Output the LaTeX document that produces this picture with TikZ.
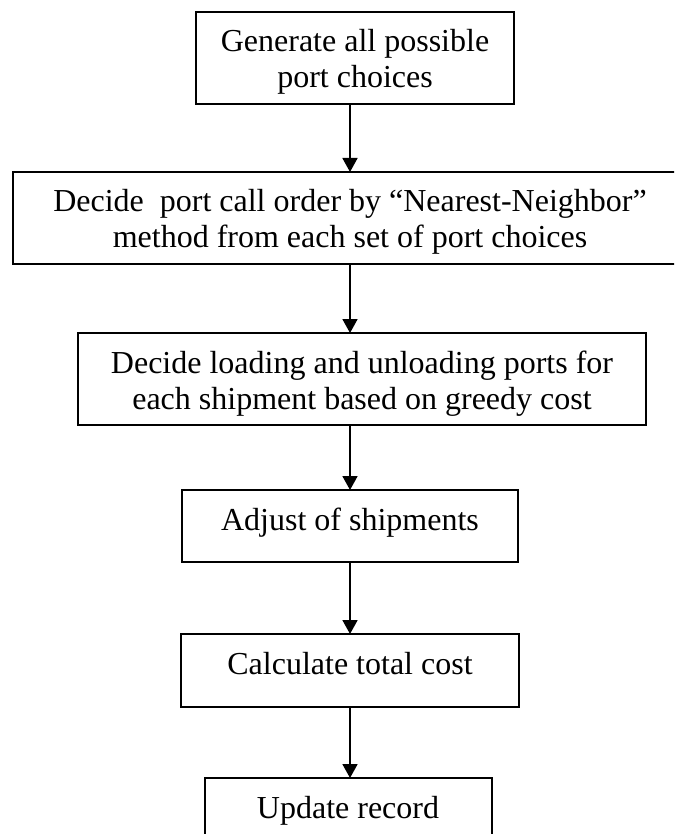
\documentclass[tikz,border=0pt]{standalone}
\usepackage{fontspec}
\setmainfont{Liberation Serif}
\usetikzlibrary{arrows.meta}
\begin{document}
\begin{tikzpicture}[x=0.5pt,y=-0.5pt,
  box/.style={draw, line width=1pt, inner sep=0pt, outer sep=0pt},
  txt/.style={anchor=base, inner sep=0pt, font=\fontsize{16}{18.4}\selectfont},
  flow/.style={draw, line width=0.9pt, -{Triangle[length=7pt,width=7.5pt]}}]
\useasboundingbox (0,0) rectangle (674,834);
\clip (0,0) rectangle (674,834);

% process boxes
\node[box, minimum width=159pt, minimum height=46pt]   (b1) at (355,58)    {};
\node[box, minimum width=337pt, minimum height=46pt]   (b2) at (350,218)   {};
\node[box, minimum width=284pt, minimum height=46pt]   (b3) at (362,379)   {};
\node[box, minimum width=168pt, minimum height=36pt]   (b4) at (350,526)   {};
\node[box, minimum width=169pt, minimum height=36.5pt] (b5) at (350,670.5) {};
\node[box, minimum width=143.5pt, minimum height=36pt] (b6) at (348.5,814) {};

% box texts
\node[txt] (t1a) at (355,52)  {Generate all possible};
\node[txt] (t1b) at (355,88)  {port choices};
\node[txt] (t2a) at (350,212) {Decide\ \ port call order by “Nearest-Neighbor”};
\node[txt] (t2b) at (350,248) {method from each set of port choices};
\node[txt] (t3a) at (362,373) {Decide loading and unloading ports for};
\node[txt] (t3b) at (362,409) {each shipment based on greedy cost};
\node[txt] (t4)  at (350,530) {Adjust of shipments};
\node[txt] (t5)  at (350,674) {Calculate total cost};
\node[txt] (t6)  at (348,818) {Update record};

% connectors
\coordinate (c1) at (350,104);
\draw[flow] (c1) -- (c1 |- b2.north);
\draw[flow] (b2.south) -- (b2.south |- b3.north);
\draw[flow] (b4.north |- b3.south) -- (b4.north);
\draw[flow] (b4.south) -- (b5.north);
\draw[flow] (b5.south) -- (b5.south |- b6.north);
\end{tikzpicture}
\end{document}
